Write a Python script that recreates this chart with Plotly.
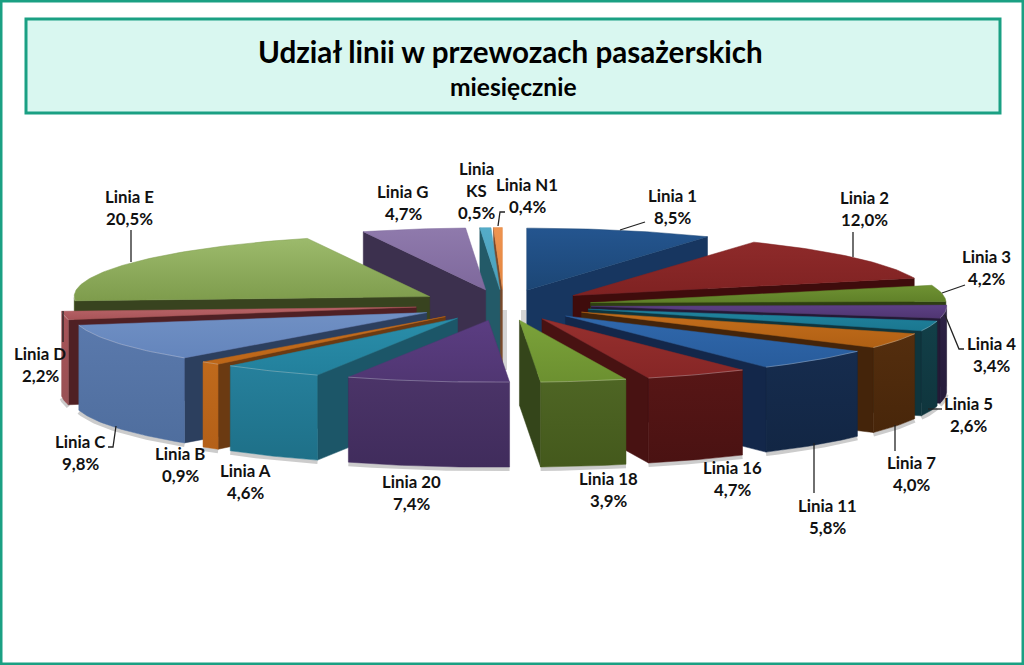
import numpy as np
import plotly.graph_objects as go

# ---- data ----
categories = ["Linia 1","Linia 2","Linia 3","Linia 4","Linia 5","Linia 7","Linia 11","Linia 16","Linia 18",
              "Linia 20","Linia A","Linia B","Linia C","Linia D","Linia E","Linia G","Linia KS","Linia N1"]
values = [8.5,12.0,4.2,3.4,2.6,4.0,5.8,4.7,3.9,7.4,4.6,0.9,9.8,2.2,20.5,4.7,0.5,0.4]
title_text = "Udział linii w przewozach pasażerskich"
subtitle_text = "miesięcznie"

# ---- styling: (top light, top dark, outer wall light, outer wall dark, radial wall) ----
palette = [
    ("#24558F","#1C4675","#1C3F6B","#16335A","#173660"),
    ("#8E2A2A","#7F2222","#5A1616","#4C1010","#3F0C0C"),
    ("#6F9233","#5F8028","#465E20","#3A4E16","#2E3E12"),
    ("#5C4084","#503672","#2E2245","#251B3A","#241A36"),
    ("#21839E","#1A7790","#123F48","#0F353D","#0F353D"),
    ("#C46E1C","#B06014","#542E0E","#48260A","#44240A"),
    ("#3068AC","#285C9C","#162C4E","#122644","#13274A"),
    ("#96302E","#862626","#571616","#4A1212","#481212"),
    ("#7BA23A","#6C9030","#4E6524","#44591C","#34451A"),
    ("#5B3D82","#503672","#4B3468","#402C5C","#3C2A58"),
    ("#2A8EAA","#22809C","#26809C","#1E7088","#1C5668"),
    ("#C86E1E","#BC6618","#C06A1C","#B46018","#6B3A12"),
    ("#7090C4","#6485BC","#5A79AC","#4F6E9E","#2C3F5E"),
    ("#B86468","#A85458","#A85458","#985054","#4F2024"),
    ("#9CBA6C","#7E9C4C","#4C5E2A","#3E4E20","#38431F"),
    ("#8F7AAC","#7E689C","#4A3A5E","#3F3250","#3C304E"),
    ("#55ACC8","#48A0BC","#2E7488","#266474","#235A68"),
    ("#EE9450","#E48640","#A86A3C","#985E30","#7A4A2C"),
]
CX, CY, RX, RY, HEIGHT = 503.5, 305, 355.5, 62, 85
PULL_X, PULL_Y = 88, 15.4
TEAL = "#1AA083"

cum = np.cumsum([0] + values) / np.sum(values) * 2 * np.pi


def project(phi, r, off):
    return CX + off[0] + RX * r * np.sin(phi), CY + off[1] - RY * r * np.cos(phi)


def poly(xs, ys, colors, name):
    return go.Scatter(x=list(xs) + [xs[0]], y=list(ys) + [ys[0]], mode="lines", fill="toself",
                      line=dict(width=0.5, color=colors[1]), name=name, hoverinfo="name", showlegend=False,
                      fillcolor=colors[1],
                      fillgradient=dict(type="vertical", colorscale=[[0, colors[1]], [1, colors[0]]]))


wedges = []
for i, (cat, col) in enumerate(zip(categories, palette)):
    a, b = cum[i], cum[i + 1]
    mid = (a + b) / 2
    off = (PULL_X * np.sin(mid), -PULL_Y * np.cos(mid))
    wedges.append((np.cos(mid), i, cat, col, a, b, off))

fig = go.Figure()

# soft shadow under the front walls, drawn first so only the white gaps show it
for _, i, cat, col, a, b, off in wedges:
    phis = np.linspace(a, b, max(6, int((b - a) * 60)))
    ox, oy = project(phis, 1.0, off)
    mask = np.cos(phis) <= 0
    if mask.sum() >= 2:
        fig.add_trace(go.Scatter(x=ox[mask], y=oy[mask] + HEIGHT + 2, mode="lines",
                                 line=dict(color="rgba(110,110,110,0.35)", width=4),
                                 hoverinfo="skip", showlegend=False))

for _, i, cat, col, a, b, off in sorted(wedges, key=lambda w: -w[0]):
    phis = np.linspace(a, b, max(6, int((b - a) * 60)))
    ax, ay = CX + off[0], CY + off[1]
    ox, oy = project(phis, 1.0, off)
    if np.sin(a) < 0:
        fig.add_trace(poly([ax, ox[0], ox[0], ax], [ay, oy[0], oy[0] + HEIGHT, ay + HEIGHT],
                           (col[4], col[4]), cat))
    if np.sin(b) > 0:
        fig.add_trace(poly([ax, ox[-1], ox[-1], ax], [ay, oy[-1], oy[-1] + HEIGHT, ay + HEIGHT],
                           (col[4], col[4]), cat))
    mask = np.cos(phis) <= 0
    if mask.sum() >= 2:
        wx, wy = ox[mask], oy[mask]
        fig.add_trace(poly(np.r_[wx, wx[::-1]], np.r_[wy, wy[::-1] + HEIGHT], (col[2], col[3]), cat))
    fig.add_trace(poly(np.r_[ax, ox], np.r_[ay, oy], (col[0], col[1]), cat))
    if mask.sum() >= 2:
        # thin bevel highlight along the front rim
        fig.add_trace(go.Scatter(x=ox[mask], y=oy[mask], mode="lines",
                                 line=dict(color="rgba(255,255,255,0.28)", width=1),
                                 hoverinfo="skip", showlegend=False))

# ---- leader lines ----
leaders = [
    [(620,230),(645,222)], [(853,257),(853,232)], [(942,293),(965,285)],
    [(945,315),(959,349),(964,349)], [(928,409),(942,409)], [(895,425),(895,451)],
    [(814,443),(814,493)], [(116,426),(113,447),(108,447)], [(131,262),(131,230)],
    [(63,311),(63,342)], [(498,226),(500,212),(505,212)],
]
for pts in leaders:
    fig.add_trace(go.Scatter(x=[p[0] for p in pts], y=[p[1] for p in pts], mode="lines",
                             line=dict(color="#222222", width=1.3), hoverinfo="skip", showlegend=False))

# ---- labels ----
label_pos = [(672,195),(864,197),(986,256),(991,343),(968,403),(911,462),(827,505),(732,467),(608,478),
             (411,481),(245,470),(180,453),(80,441),(40,353),(129,196),(403,191),(476,168),(527,184)]
annotations = []
for cat, val, (lx, ly) in zip(categories, values, label_pos):
    lines = ["Linia", "KS"] if cat == "Linia KS" else [cat]
    lines.append(f"{val:.1f}%".replace(".", ","))
    for k, t in enumerate(lines):
        annotations.append(dict(x=lx, y=ly + k * 22.3, text=t, showarrow=False, xref="x", yref="y",
                                xanchor="center", yanchor="middle",
                                font=dict(family="Lato", size=16.8, color="#111111", weight="bold")))
annotations.append(dict(x=510, y=51, text=title_text, showarrow=False, xref="x", yref="y",
                        font=dict(family="Lato", size=29.6, color="#000000", weight="bold")))
annotations.append(dict(x=513, y=86, text=subtitle_text, showarrow=False, xref="x", yref="y",
                        font=dict(family="Lato", size=24.6, color="#000000", weight="bold")))

shapes = [
    dict(type="rect", xref="x", yref="y", x0=1, y0=1, x1=1023, y1=664, line=dict(color=TEAL, width=3), layer="below"),
    dict(type="rect", xref="x", yref="y", x0=26, y0=19, x1=1000, y1=113,
         line=dict(color=TEAL, width=3), fillcolor="#D9F7F0", layer="below"),
    dict(type="rect", xref="x", yref="y", x0=502, y0=310, x1=507, y1=370,
         line=dict(width=0), fillcolor="#D4D4D4", layer="below"),
    dict(type="rect", xref="x", yref="y", x0=521, y0=310, x1=526, y1=335,
         line=dict(width=0), fillcolor="#D4D4D4", layer="below"),
]
fig.update_layout(width=1024, height=665, margin=dict(l=0, r=0, t=0, b=0), paper_bgcolor="white", plot_bgcolor="white",
                  xaxis=dict(range=[0, 1024], visible=False, fixedrange=True),
                  yaxis=dict(range=[665, 0], visible=False, fixedrange=True),
                  showlegend=False, annotations=annotations, shapes=shapes)
fig.write_html("out.html", post_script="document.body.style.margin='0';", config={"displayModeBar": False})
